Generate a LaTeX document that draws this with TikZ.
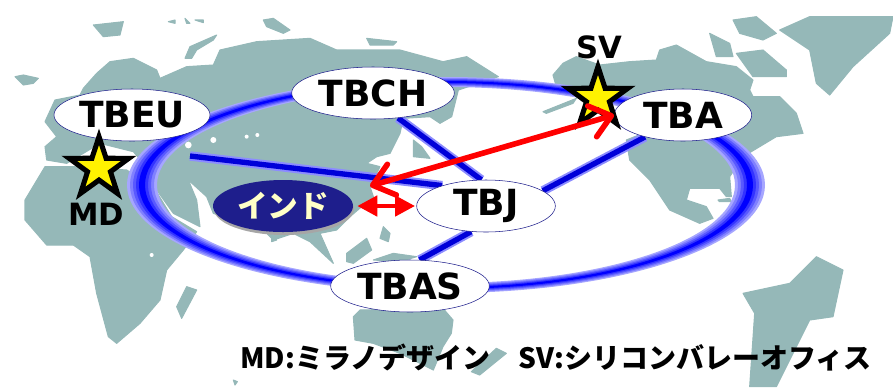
\documentclass[tikz,border=0pt]{standalone}
\usepackage{fontspec}
\setmainfont{DejaVu Sans}
\newfontfamily\cjkfont{Noto Sans CJK JP}
\usetikzlibrary{arrows.meta,backgrounds,shapes.geometric}
\definecolor{land}{RGB}{149, 184, 184}
\definecolor{navy}{RGB}{30, 30, 140}
\definecolor{cream}{RGB}{255, 255, 200}
\tikzstyle{hub} = [ellipse, draw=navy, fill=white, inner sep=0pt, minimum height=39pt,
  font=\fontsize{27}{27}\selectfont\bfseries, text=black]
\tikzstyle{tag} = [font=\fontsize{23}{23}\selectfont\bfseries, text=black, inner sep=0pt]
\tikzstyle{site} = [star, star points=5, star point ratio=2.6, draw=black, fill=yellow,
  line width=3.8pt, minimum size=47pt, inner sep=0pt, outer sep=0pt]
\tikzstyle{link} = [draw, line width=4pt, color=blue!85!black,
  preaction={draw, line width=7pt, color=blue!45!white}]
\tikzstyle{isle} = [fill=land, draw=land, line width=0.8pt, line join=round]

\begin{document}
\begin{tikzpicture}[x=0.75pt, y=-0.75pt]

  \useasboundingbox (0,0) rectangle (893,387);

  %%%%%%%%%%%%%%%%%%%%%%%%%%%%%%%%%%%%%%%%%%%%%%%%%%%%%%%%%%%%%%
  %                    HUBS                                    %
  %%%%%%%%%%%%%%%%%%%%%%%%%%%%%%%%%%%%%%%%%%%%%%%%%%%%%%%%%%%%%%

  \node [hub, minimum width=117pt] (tb-eu) at (132,115) {TBEU};
  \node [hub, minimum width=122pt] (tb-ch) at (373,93) {TBCH};
  \node [hub, minimum width=103pt] (tb-a) at (683,115) {TBA};
  \node [hub, minimum width=104pt] (tb-j) at (486,206) {TBJ};
  \node [hub, minimum width=119pt] (tb-as) at (410,286) {TBAS};

  \node [ellipse, fill=gray!70, minimum width=105pt, minimum height=39pt, inner sep=0pt] (india-shadow) at (284,209) {};
  \node [ellipse, fill=navy, minimum width=105pt, minimum height=39pt, inner sep=0pt,
    text=cream, font=\fontsize{23}{23}\selectfont\cjkfont\bfseries] (india) at (283,206) {インド};

  \coordinate (gulf) at (190,156);
  \coordinate (china-coast) at (370,186);

  %%%%%%%%%%%%%%%%%%%%%%%%%%%%%%%%%%%%%%%%%%%%%%%%%%%%%%%%%%%%%%
  %                    MAP AND RING                            %
  %%%%%%%%%%%%%%%%%%%%%%%%%%%%%%%%%%%%%%%%%%%%%%%%%%%%%%%%%%%%%%

  \begin{scope}[on background layer]
    \begin{scope}[x=0.25pt, y=-0.25pt]
      % eurasia
      \fill [isle] (135,365) -- (165,300) -- (240,285) -- (250,265) -- (290,220) -- (330,185) -- (400,175)
        -- (470,210) -- (480,235) -- (560,200) -- (640,195) -- (660,150) -- (770,125) -- (930,115)
        -- (1010,150) -- (1100,150) -- (1200,150) -- (1329,185) -- (1400,170) -- (1495,230) -- (1375,270)
        -- (1355,350) -- (1320,370) -- (1290,350) -- (1210,355) -- (1200,400) -- (1170,460) -- (1130,470)
        -- (1100,490) -- (1140,500) -- (1110,560) -- (1120,590) -- (1050,650) -- (1010,690) -- (960,700)
        -- (1000,790) -- (930,725) -- (880,700) -- (820,720) -- (790,690) -- (640,640) -- (620,590)
        -- (565,540) -- (590,600) -- (600,680) -- (520,640) -- (470,570) -- (440,500) -- (400,455)
        -- (300,430) -- (200,490) -- (140,480) -- (135,440) -- (170,410) -- cycle;
      % africa
      \fill [isle] (75,600) -- (135,500) -- (220,500) -- (380,510) -- (460,560) -- (515,650) -- (590,695)
        -- (550,750) -- (500,810) -- (480,900) -- (420,970) -- (350,1030) -- (325,1010) -- (290,880)
        -- (270,770) -- (220,735) -- (140,735) -- (75,660) -- cycle;
      % north america
      \fill [isle] (1659,225) -- (1689,190) -- (1729,170) -- (1799,195) -- (1889,185) -- (1969,180)
        -- (1979,150) -- (2029,135) -- (2119,185) -- (2209,200) -- (2259,240) -- (2249,270) -- (2259,290)
        -- (2339,290) -- (2389,340) -- (2409,400) -- (2329,410) -- (2279,440) -- (2229,470) -- (2189,530)
        -- (2194,590) -- (2179,590) -- (2159,565) -- (2069,565) -- (2059,600) -- (2119,620) -- (2139,655)
        -- (2099,670) -- (2009,630) -- (1949,540) -- (1889,480) -- (1879,420) -- (1929,400) -- (1869,290)
        -- (1749,290) -- (1669,260) -- cycle;
      % south america
      \fill [isle] (2229,880) -- (2369,850) -- (2449,770) -- (2529,810) -- (2499,950) -- (2429,960)
        -- (2329,1160) -- (2249,1160) -- (2264,940) -- cycle;
      % greenland
      \fill [isle] (2339,90) -- (2429,50) -- (2679,50) -- (2669,100) -- (2559,200) -- (2489,285)
        -- (2449,250) -- (2429,150) -- cycle;
      % australia
      \fill [isle] (1060,950) -- (1080,930) -- (1329,925) -- (1359,960) -- (1354,1000) -- (1329,1040)
        -- (1300,1110) -- (1200,1060) -- (1120,1030) -- (1065,1020) -- cycle;
      \fill [isle] (1489,1045) -- (1519,1060) -- (1439,1125) -- (1414,1115) -- cycle;
      % islands
      \fill [isle] (45,230) -- (70,225) -- (115,235) -- (100,250) -- (70,255) -- cycle;
      \fill [isle] (280,75) -- (370,65) -- (360,105) -- (310,110) -- cycle;
      \fill [isle] (505,65) -- (525,60) -- (525,70) -- cycle;
      \fill [isle] (555,55) -- (570,70) -- (560,70) -- cycle;
      \fill [isle] (585,60) -- (610,60) -- (610,68) -- cycle;
      \fill [isle] (555,175) -- (570,140) -- (650,105) -- (640,120) -- (590,150) -- (575,175) -- cycle;
      \fill [isle] (790,60) -- (820,55) -- (870,90) -- (850,100) -- (800,80) -- cycle;
      \fill [isle] (1100,115) -- (1190,125) -- (1180,135) -- (1110,135) -- cycle;
      \fill [isle] (1240,420) -- (1265,440) -- (1290,475) -- (1240,470) -- cycle;
      \fill [isle] (1150,680) -- (1170,700) -- (1165,725) -- (1140,715) -- cycle;
      \fill [isle] (1040,760) -- (1100,715) -- (1115,750) -- (1060,790) -- (1040,785) -- cycle;
      \fill [isle] (1120,780) -- (1180,760) -- (1250,770) -- (1200,785) -- cycle;
      \fill [isle] (815,700) -- (830,720) -- (815,725) -- cycle;
      \fill [isle] (560,860) -- (590,870) -- (545,955) -- (530,920) -- cycle;
      \fill [isle] (700,1140) -- (712,1145) -- (705,1155) -- cycle;
      % canadian islands
      \fill [isle] (2199,60) -- (2269,50) -- (2329,100) -- (2289,120) -- (2219,100) -- cycle;
      \fill [isle] (2129,100) -- (2189,130) -- (2199,170) -- (2149,170) -- cycle;
      \fill [isle] (2209,160) -- (2289,150) -- (2359,210) -- (2359,230) -- (2259,230) -- cycle;
      \fill [isle] (1629,335) -- (1729,295) -- (1719,310) -- (1639,340) -- cycle;
      \fill [isle] (2154,600) -- (2189,595) -- (2194,605) -- (2159,605) -- cycle;
      % inland seas
      \fill [white] (565,435) circle (10);
      \fill [white] (640,420) circle (9);
      \fill [white] (740,410) circle (6);
      \fill [white] (772,405) circle (6);
      \fill [white] (455,765) circle (6);
    \end{scope}

    % ring
    \foreach \t/\c in {1/35,0.8/50,0.6/65,0.4/80,0.2/100}
      \fill [blue!\c!white, even odd rule]
        (446,185) ellipse [x radius={304+15*\t}, y radius={103+5*\t}]
        (446,185) ellipse [x radius={304-15*\t}, y radius={103-5*\t}];

    % spokes
    \draw [link] (tb-ch.-45) -- (tb-j.100);
    \draw [link] (tb-a.210) -- (tb-j.15);
    \draw [link] (tb-j.-120) -- (tb-as.70);
    \draw [link] (gulf) -- (tb-j.155);
  \end{scope}

  %%%%%%%%%%%%%%%%%%%%%%%%%%%%%%%%%%%%%%%%%%%%%%%%%%%%%%%%%%%%%%
  %                    OFFICES AND ARROWS                      %
  %%%%%%%%%%%%%%%%%%%%%%%%%%%%%%%%%%%%%%%%%%%%%%%%%%%%%%%%%%%%%%

  \node [site] (md-star) at (99,168) {};
  \node [site] (sv-star) at (598,98) {};
  \node [tag] (md-tag) at (96,214) {MD};
  \node [tag] (sv-tag) at (599,47) {SV};

  \draw [red, line width=4.2pt, line cap=round,
    {Straight Barb[round,length=15pt,width=24pt,line width=4.2pt]}-{Straight Barb[round,length=15pt,width=24pt,line width=4.2pt]}]
    (china-coast) -- (tb-a.west);
  \draw [red, line width=3.5pt, {Triangle[length=15pt,width=15pt]}-{Triangle[length=15pt,width=15pt]},
    shorten <=3pt, shorten >=1pt] (india.east) -- (tb-j.west);

  \node [inner sep=0pt, text=black, font=\fontsize{21}{21}\selectfont\cjkfont\bfseries] (legend) at (556,358)
    {MD:ミラノデザイン　SV:シリコンバレーオフィス};

\end{tikzpicture}
\end{document}
